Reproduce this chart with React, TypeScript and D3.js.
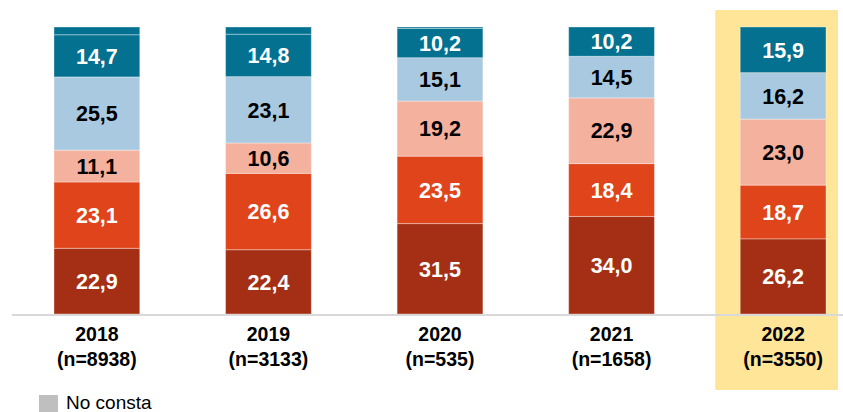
import React from "react";
import * as d3 from "d3";

const years = ["2018", "2019", "2020", "2021", "2022"];
const sampleSizes = ["(n=8938)", "(n=3133)", "(n=535)", "(n=1658)", "(n=3550)"];
const serieA = [22.9, 22.4, 31.5, 34.0, 26.2];
const serieB = [23.1, 26.6, 23.5, 18.4, 18.7];
const serieC = [11.1, 10.6, 19.2, 22.9, 23.0];
const serieD = [25.5, 23.1, 15.1, 14.5, 16.2];
const serieE = [14.7, 14.8, 10.2, 10.2, 15.9];
const noConsta = [2.7, 2.5, 0.5, 0, 0];

const seriesList = [
  { key: "a", values: serieA, color: "#a52f14", text: "#ffffff", label: true },
  { key: "b", values: serieB, color: "#e0441a", text: "#ffffff", label: true },
  { key: "c", values: serieC, color: "#f4b19e", text: "#000000", label: true },
  { key: "d", values: serieD, color: "#a9c9e0", text: "#000000", label: true },
  { key: "e", values: serieE, color: "#047190", text: "#ffffff", label: true },
  { key: "nc", values: noConsta, color: "#047190", text: "#ffffff", label: false },
];
const highlightYear = "2022";
const legendLabel = "No consta";

export default function App() {
  const W = 843, H = 412;
  const x = d3.scaleBand<string>().domain(years).range([54, 826]).paddingInner(0.5).paddingOuter(0);
  const y = d3.scaleLinear().domain([0, 100]).range([314, 27]);
  const font = "'Liberation Sans', Arial, sans-serif";

  const stackRows = years.map((yr, i) => {
    const row: any = { year: yr };
    seriesList.forEach((s) => (row[s.key] = s.values[i]));
    return row;
  });
  const stacked = d3.stack().keys(seriesList.map((s) => s.key))(stackRows);

  const hx = x(highlightYear)!;
  return (
    <svg width={W} height={H} style={{ position: "absolute", left: 0, top: 0 }} fontFamily={font}>
      <rect x={hx - 25} y={10} width={838 - (hx - 25)} height={380} fill="#ffe597" />
      {stacked.map((layer, li) => {
        const s = seriesList[li];
        return (
          <g key={s.key}>
            {layer.map((d, i) => {
              const y0 = y(d[0]);
              const y1 = y(d[1]);
              const h = y0 - y1;
              if (h <= 0) return null;
              const bx = x(years[i])!;
              return (
                <g key={i}>
                  <rect x={bx} y={y1} width={x.bandwidth()} height={h} fill={s.color}
                    stroke="#ffffff" strokeOpacity={0.35} strokeWidth={1} />
                  {s.label && (
                    <text x={bx + x.bandwidth() / 2} y={(y0 + y1) / 2} dy="0.36em" textAnchor="middle"
                      fontSize={21.5} fontWeight="bold" fill={s.text}>
                      {s.values[i].toFixed(1).replace(".", ",")}
                    </text>
                  )}
                </g>
              );
            })}
          </g>
        );
      })}
      <line x1={12} x2={843} y1={315} y2={315} stroke="#d9d9d9" strokeWidth={2} />
      {years.map((yr, i) => (
        <text key={yr} x={x(yr)! + x.bandwidth() / 2} textAnchor="middle" fontSize={19.5} fontWeight="bold" fill="#000">
          <tspan x={x(yr)! + x.bandwidth() / 2} y={341}>{yr}</tspan>
          <tspan x={x(yr)! + x.bandwidth() / 2} y={366}>{sampleSizes[i]}</tspan>
        </text>
      ))}
      <rect x={39} y={395} width={19} height={17} fill="#bfbfbf" />
      <text x={66} y={409} fontSize={19} fill="#000">{legendLabel}</text>
    </svg>
  );
}
